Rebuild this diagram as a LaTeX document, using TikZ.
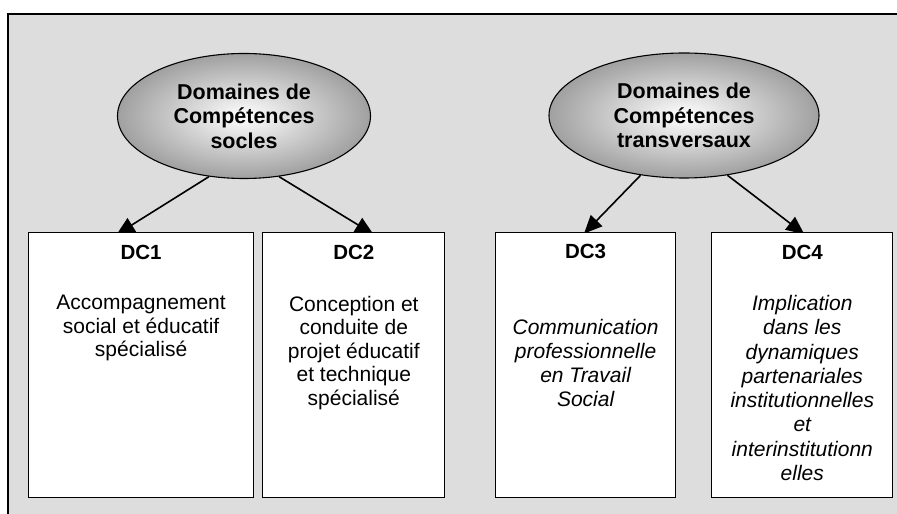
\documentclass[tikz,border=0pt]{standalone}
\usepackage{fontspec}
\setmainfont{Liberation Sans}
\usepackage{tikz}
\usetikzlibrary{arrows.meta,positioning,shapes.geometric}
\definecolor{framegray}{HTML}{DDDDDD}
\definecolor{edgegray}{HTML}{A0A0A0}
\pgfdeclarelayer{framelayer}
\pgfdeclarelayer{linklayer}
\pgfsetlayers{framelayer,linklayer,main}

\begin{document}
\begin{tikzpicture}[x=1pt,y=1pt,>={Triangle[length=18pt,width=16pt]},
  domain node/.style={ellipse,draw,line width=1.1pt,shading=radial,inner color=white,
    outer color=edgegray,minimum height=125pt,inner sep=0pt,align=center,
    font=\fontsize{21.5}{24.5}\selectfont\bfseries},
  dc box/.style={rectangle,draw,line width=1.2pt,fill=white,minimum height=265pt,anchor=north west},
  dc title/.style={anchor=base,font=\fontsize{20.5}{24}\selectfont\bfseries},
  dc text/.style={anchor=north,inner sep=0pt,align=center,font=\fontsize{21}{23.5}\selectfont}]

  \useasboundingbox (0,0) rectangle (897,514);
  \begin{pgfonlayer}{framelayer}
    \filldraw[fill=framegray,line width=1.2pt] (8,500) rectangle (910,-10);
  \end{pgfonlayer}

  \node[dc box,minimum width=225pt] (dc1) at (28,282) {};
  \node[dc box,minimum width=182pt,right=8pt of dc1] (dc2) {};
  \node[dc box,minimum width=180pt] (dc3) at (495,282) {};
  \node[dc box,minimum width=181pt,right=35pt of dc3] (dc4) {};

  \node[dc title] (t1) at ([yshift=-28pt]dc1.north) {DC1};
  \node[dc title] (t2) at ([yshift=-28pt]dc2.north) {DC2};
  \node[dc title] (t3) at ([yshift=-27pt]dc3.north) {DC3};
  \node[dc title] (t4) at ([yshift=-28pt]dc4.north) {DC4};

  \node[dc text] (b1) at ([yshift=-63pt]dc1.north) {Accompagnement\\social et éducatif\\spécialisé};
  \node[dc text] (b2) at ([yshift=-64pt]dc2.north) {Conception et\\conduite de\\projet éducatif\\et technique\\spécialisé};
  \node[dc text,font=\fontsize{21}{24}\selectfont\itshape] (b3) at ([yshift=-87pt]dc3.north)
    {Communication\\professionnelle\\en Travail\\Social};
  \node[dc text,font=\fontsize{21}{24.3}\selectfont\itshape] (b4) at ([yshift=-63pt]dc4.north)
    {Implication\\dans les\\dynamiques\\partenariales\\institutionnelles\\et\\interinstitutionn\\elles};

  \node[domain node,minimum width=253pt] (socles) at (244,398) {Domaines de\\Compétences\\socles};
  \node[domain node,minimum width=270pt] (transv) at (684,398.5) {Domaines de\\Compétences\\transversaux};

  % arrow tips run under the boxes
  \begin{pgfonlayer}{linklayer}
  \path[->,line width=1.6pt]
    (socles.240) edge ([shift={(-24.5pt,-2.5pt)}]dc1.north)
    (socles.300) edge ([shift={(19.5pt,-2.2pt)}]dc2.north)
    (transv.234) edge ([shift={(-1.5pt,-1.5pt)}]dc3.north)
    (transv.306) edge ([shift={(2pt,-2.2pt)}]dc4.north);
  \end{pgfonlayer}
\end{tikzpicture}
\end{document}
